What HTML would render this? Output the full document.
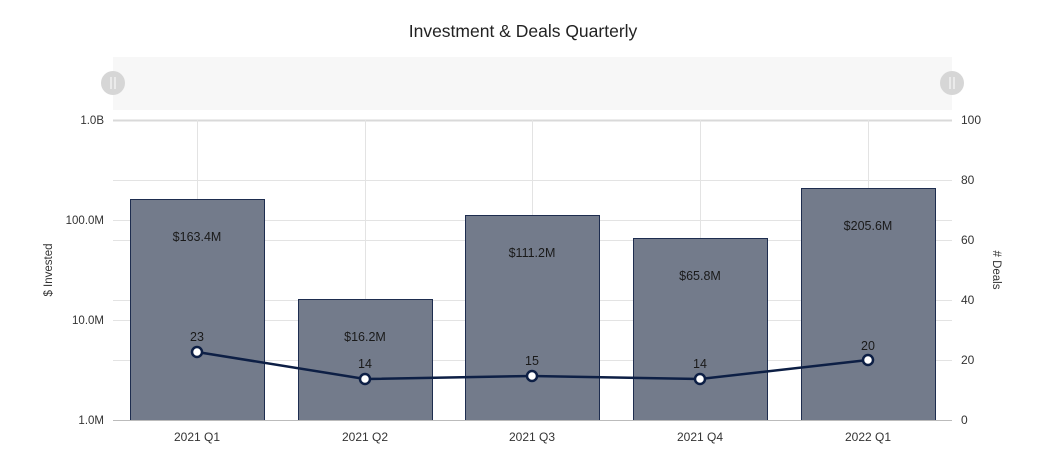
<!DOCTYPE html>
<html><head><meta charset="utf-8"><style>
body{margin:0;background:#fff;width:1050px;height:469px;overflow:hidden}
svg{display:block;font-family:"Liberation Sans",sans-serif}
</style></head><body>
<svg width="1050" height="469" viewBox="0 0 1050 469">
<text x="523" y="37" text-anchor="middle" font-size="17.5" fill="#222">Investment &amp; Deals Quarterly</text>
<rect x="113" y="57" width="839" height="53" fill="#f7f7f7"/>
<circle cx="113" cy="83" r="12" fill="#d6d6d6"/>
<circle cx="952" cy="83" r="12" fill="#d6d6d6"/>
<g stroke="#fff" stroke-width="1"><line x1="111" y1="77" x2="111" y2="89"/><line x1="115" y1="77" x2="115" y2="89"/><line x1="950" y1="77" x2="950" y2="89"/><line x1="954" y1="77" x2="954" y2="89"/></g>
<g stroke="#e3e3e3" stroke-width="1">
<line x1="113" y1="120.5" x2="952" y2="120.5" stroke="#d9d9d9" stroke-width="2"/>
<line x1="113" y1="180.5" x2="952" y2="180.5"/>
<line x1="113" y1="220.5" x2="952" y2="220.5"/>
<line x1="113" y1="240.5" x2="952" y2="240.5"/>
<line x1="113" y1="300.5" x2="952" y2="300.5"/>
<line x1="113" y1="320.5" x2="952" y2="320.5"/>
<line x1="113" y1="360.5" x2="952" y2="360.5"/>
<line x1="197.5" y1="120" x2="197.5" y2="420"/>
<line x1="365.5" y1="120" x2="365.5" y2="420"/>
<line x1="532.5" y1="120" x2="532.5" y2="420"/>
<line x1="700.5" y1="120" x2="700.5" y2="420"/>
<line x1="868.5" y1="120" x2="868.5" y2="420"/>
</g>
<g fill="#737b8b" stroke="#1e2d4f" stroke-width="1">
<rect x="130.5" y="199.5" width="134" height="221"/>
<rect x="298.5" y="299.5" width="134" height="121"/>
<rect x="465.5" y="215.5" width="134" height="205"/>
<rect x="633.5" y="238.5" width="134" height="182"/>
<rect x="801.5" y="188.5" width="134" height="232"/>
</g>
<line x1="113" y1="420.5" x2="952" y2="420.5" stroke="#bbb"/>
<g font-size="12.5" fill="#1a1a1a" text-anchor="middle">
<text x="197" y="241">$163.4M</text>
<text x="365" y="341">$16.2M</text>
<text x="532" y="257">$111.2M</text>
<text x="700" y="280">$65.8M</text>
<text x="868" y="230">$205.6M</text>
<text x="197" y="341">23</text>
<text x="365" y="368">14</text>
<text x="532" y="365">15</text>
<text x="700" y="368">14</text>
<text x="868" y="350">20</text>
</g>
<polyline points="197,352 365,379 532,376 700,379 868,360" fill="none" stroke="#0d1f45" stroke-width="2.5"/>
<g fill="#fff" stroke="#0d1f45" stroke-width="2.5">
<circle cx="197" cy="352" r="5"/><circle cx="365" cy="379" r="5"/><circle cx="532" cy="376" r="5"/><circle cx="700" cy="379" r="5"/><circle cx="868" cy="360" r="5"/>
</g>
<g font-size="11.5" fill="#333" text-anchor="end">
<text x="104" y="124">1.0B</text>
<text x="104" y="224">100.0M</text>
<text x="104" y="324">10.0M</text>
<text x="104" y="424">1.0M</text>
</g>
<g font-size="12" fill="#333">
<text x="961" y="124">100</text>
<text x="961" y="184">80</text>
<text x="961" y="244">60</text>
<text x="961" y="304">40</text>
<text x="961" y="364">20</text>
<text x="961" y="424">0</text>
</g>
<g font-size="12" fill="#333" text-anchor="middle">
<text x="197" y="441">2021 Q1</text>
<text x="365" y="441">2021 Q2</text>
<text x="532" y="441">2021 Q3</text>
<text x="700" y="441">2021 Q4</text>
<text x="868" y="441">2022 Q1</text>
</g>
<text transform="translate(52,270) rotate(-90)" font-size="11.5" fill="#333" text-anchor="middle">$ Invested</text>
<text transform="translate(993,270) rotate(90)" font-size="11.5" fill="#333" text-anchor="middle"># Deals</text>
</svg>
</body></html>
